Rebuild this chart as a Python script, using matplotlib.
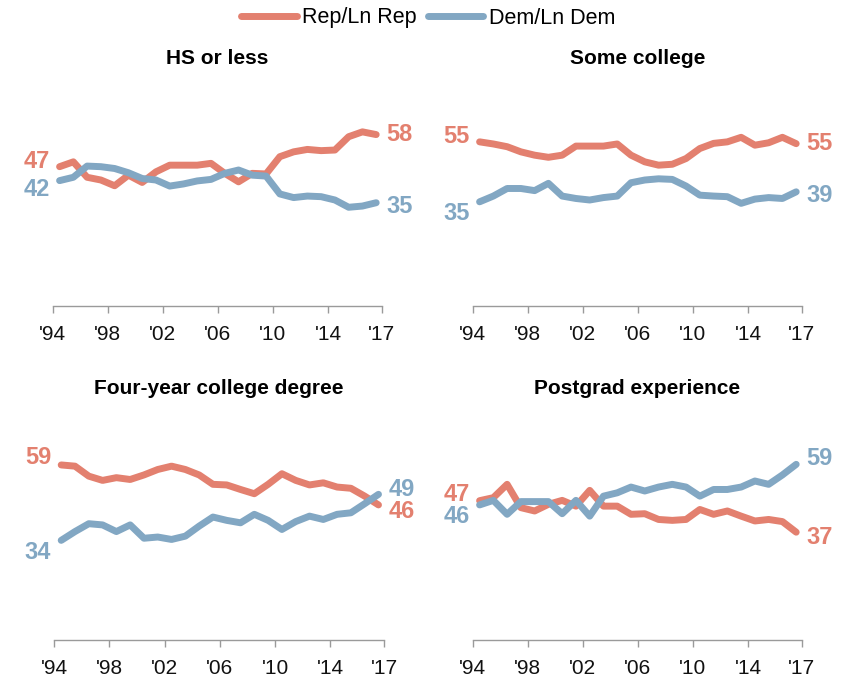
import matplotlib.pyplot as plt
from matplotlib.lines import Line2D

# ==========================================
# 1. Data
# ==========================================
years = list(range(1994, 2018))

hs_rep = [47.0, 48.6, 43.5, 42.6, 40.7, 44.2, 41.8, 45.3, 47.5, 47.5, 47.5, 48.1,
          44.8, 42.0, 44.8, 44.6, 50.3, 51.9, 52.7, 52.3, 52.5, 56.9, 58.5, 57.6]
hs_dem = [42.4, 43.5, 47.2, 47.0, 46.4, 45.0, 43.1, 42.6, 40.6, 41.3, 42.3, 42.8,
          44.8, 45.9, 44.2, 43.9, 38.0, 36.8, 37.3, 37.1, 36.0, 33.6, 34.0, 35.1]

sc_rep = [55.2, 54.5, 53.6, 51.9, 50.8, 50.1, 50.8, 53.8, 53.8, 53.8, 54.5, 50.8,
          48.6, 47.5, 47.8, 49.7, 53.0, 54.7, 55.2, 56.7, 54.1, 54.9, 56.7, 54.6]
sc_dem = [35.4, 37.3, 39.8, 39.8, 39.1, 41.5, 37.3, 36.5, 36.0, 36.8, 37.3, 41.7,
          42.6, 43.0, 42.8, 40.6, 37.6, 37.3, 37.1, 34.9, 36.3, 36.8, 36.5, 38.7]

col_rep = [58.8, 58.4, 55.1, 53.7, 54.6, 54.0, 55.5, 57.3, 58.4, 57.3, 55.5, 52.4,
           52.2, 50.7, 49.3, 52.4, 55.9, 53.7, 52.2, 52.9, 51.5, 51.1, 48.5, 45.6]
col_dem = [33.9, 36.8, 39.4, 39.0, 36.8, 39.0, 34.6, 35.0, 34.2, 35.3, 38.6, 41.6,
           40.5, 39.7, 42.5, 40.5, 37.5, 40.1, 41.9, 40.8, 42.5, 43.0, 46.0, 49.1]

pg_rep = [47.0, 48.0, 52.4, 44.7, 43.6, 45.8, 47.1, 45.2, 50.4, 45.2, 45.2, 42.5,
          42.7, 40.8, 40.5, 40.8, 44.1, 42.5, 43.6, 41.9, 40.3, 40.8, 40.1, 36.6]
pg_dem = [45.6, 47.1, 42.5, 46.7, 46.7, 46.7, 42.7, 47.1, 41.9, 48.5, 49.6, 51.5,
          50.2, 51.5, 52.4, 51.5, 48.5, 50.7, 50.7, 51.5, 53.5, 52.4, 55.5, 59.0]

titles = ["HS or less", "Some college", "Four-year college degree", "Postgrad experience"]
series = [(hs_rep, hs_dem), (sc_rep, sc_dem), (col_rep, col_dem), (pg_rep, pg_dem)]

tick_years = [1994, 1998, 2002, 2006, 2010, 2014, 2017.9]
tick_labels = ["'94", "'98", "'02", "'06", "'10", "'14", "'17"]

# ==========================================
# 2. Styling / layout
# ==========================================
plt.rcParams['font.family'] = ['Liberation Sans', 'DejaVu Sans']
REP_COLOR = "#e3806f"
DEM_COLOR = "#82a7c3"
AXIS_GRAY = "#9a9a9a"

W, H = 844, 681
# axes boxes in pixels: left, right, spine y
boxes = [(52.7, 381.7, 306), (472.7, 801.7, 306),
         (54.3, 384.0, 640), (472.7, 801.7, 640)]
AX_H = 212
title_y = [58, 58, 388, 388]

# vertical offsets (px) of end labels: rep start, dem start, rep end, dem end
label_dy = [(5, -9, 0, -4), (5, -12, 0, -4), (7, -12, -7, 5), (6, -12, -5, 6)]

fig = plt.figure(figsize=(W / 100, H / 100), dpi=100)

xs = [y + 0.5 for y in years]

for i, (rep, dem) in enumerate(series):
    l, r, b = boxes[i]
    ax = fig.add_axes([l / W, (H - b) / H, (r - l) / W, AX_H / H])
    ax.plot(xs, rep, color=REP_COLOR, lw=5, solid_capstyle="round", solid_joinstyle="round")
    ax.plot(xs, dem, color=DEM_COLOR, lw=5, solid_capstyle="round", solid_joinstyle="round")
    ax.set_xlim(1994, 2017.9)
    ax.set_ylim(1, 71)

    for s in ["top", "right", "left"]:
        ax.spines[s].set_visible(False)
    ax.spines["bottom"].set_color(AXIS_GRAY)
    ax.spines["bottom"].set_linewidth(1)
    ax.set_yticks([])
    ax.set_xticks(tick_years, tick_labels)
    ax.tick_params(axis="x", length=5, width=1, color=AXIS_GRAY,
                   labelsize=15, pad=9, labelcolor="#111111")

    dy = label_dy[i]
    for vals, col, k_start, k_end in [(rep, REP_COLOR, 0, 2), (dem, DEM_COLOR, 1, 3)]:
        ax.annotate(f"{round(vals[0])}", xy=(xs[0], vals[0]), xytext=(-10, dy[k_start]),
                    textcoords="offset pixels", ha="right", va="center",
                    fontsize=17, fontweight="bold", color=col, annotation_clip=False)
        ax.annotate(f"{round(vals[-1])}", xy=(xs[-1], vals[-1]), xytext=(10, dy[k_end]),
                    textcoords="offset pixels", ha="left", va="center",
                    fontsize=17, fontweight="bold", color=col, annotation_clip=False)

    fig.text((l + r) / 2 / W, 1 - title_y[i] / H, titles[i], ha="center", va="center",
             fontsize=15, fontweight="bold", color="black")

# ==========================================
# 3. Legend
# ==========================================
handles = [Line2D([0], [0], color=REP_COLOR, lw=5, solid_capstyle="round"),
           Line2D([0], [0], color=DEM_COLOR, lw=5, solid_capstyle="round")]
fig.legend(handles, ["Rep/Ln Rep", "Dem/Ln Dem"], loc="center",
           bbox_to_anchor=(428 / W, 1 - 18 / H), ncol=2, frameon=False,
           fontsize=15.5, handlelength=2.6, handletextpad=0.25, columnspacing=0.5,
           borderaxespad=0, borderpad=0)

fig.savefig("out.png", dpi=100)
